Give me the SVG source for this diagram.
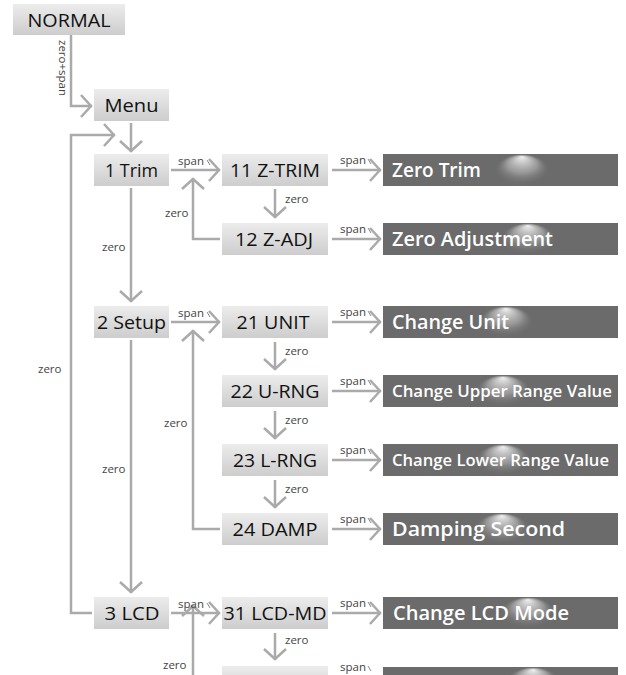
<svg xmlns="http://www.w3.org/2000/svg" width="626" height="675" viewBox="0 0 626 675">
<defs>
<linearGradient id="lg" x1="0" y1="0" x2="0" y2="1">
<stop offset="0" stop-color="#ececec"/>
<stop offset="1" stop-color="#cdcdcd"/>
</linearGradient>
<radialGradient id="hl" cx="0.5" cy="0.5" r="0.5" fx="0.5" fy="0.08">
<stop offset="0" stop-color="#ffffff" stop-opacity="0.9"/>
<stop offset="0.55" stop-color="#d0d0d0" stop-opacity="0.45"/>
<stop offset="1" stop-color="#6b6b6b" stop-opacity="0"/>
</radialGradient>
<marker id="ar" markerUnits="userSpaceOnUse" viewBox="-12 -13 14 26" refX="0" refY="0" markerWidth="14" markerHeight="26" orient="auto">
<path d="M-11,-11 L-1,0 L-11,11" fill="none" stroke="#aaaaaa" stroke-width="2.5"/>
</marker>
</defs>
<style>
.lb{fill:url(#lg)}
.db{fill:#6b6b6b}
.hl{fill:url(#hl)}
.lt{font-family:"Open Sans","Liberation Sans",sans-serif;font-size:19px;fill:#111;text-anchor:middle}
.dt{font-family:"Open Sans","Liberation Sans",sans-serif;font-size:19px;font-weight:600;fill:#ffffff}
.dn{font-size:17px}
.sl{font-family:"Open Sans","Liberation Sans",sans-serif;font-size:11.5px;fill:#444}
.c{fill:none;stroke:#aaaaaa;stroke-width:2.5;marker-end:url(#ar)}
.tk{fill:none;stroke:#888;stroke-width:1}
</style>
<rect width="626" height="675" fill="#ffffff"/>

<g id="connectors">
<path class="c" d="M71,35 V106 H92"/>
<path class="c" d="M131,123 V152"/>
<path class="c" d="M92,613 H71 V135 H115"/>
<path class="c" d="M131,188 V302"/>
<path class="c" d="M131,340 V593"/>
<path class="c" d="M171,170 H220"/>
<path class="c" d="M171,322 H220"/>
<path class="c" d="M171,613 H220"/>
<path class="c" d="M275,189 V218"/>
<path class="c" d="M275,342 V370"/>
<path class="c" d="M275,411 V439"/>
<path class="c" d="M275,480 V508"/>
<path class="c" d="M275,633 V660"/>
<path class="c" d="M220,239 H193 V178"/>
<path class="c" d="M220,529 H193 V330"/>
<path class="c" d="M193,680 V605"/>
<path class="c" d="M332,170 H381"/>
<path class="c" d="M332,239 H381"/>
<path class="c" d="M332,322 H381"/>
<path class="c" d="M332,391 H381"/>
<path class="c" d="M332,460 H381"/>
<path class="c" d="M332,529 H381"/>
<path class="c" d="M332,613 H381"/>
<text class="sl" transform="translate(59,40) rotate(90)">zero+span</text>
<text class="sl" x="38" y="373">zero</text>
<text class="sl" x="102" y="251">zero</text>
<text class="sl" x="102" y="473">zero</text>
<text class="sl" x="165" y="217">zero</text>
<text class="sl" x="164" y="427">zero</text>
<text class="sl" x="163" y="669">zero</text>
<text class="sl" x="285" y="203">zero</text>
<text class="sl" x="285" y="355">zero</text>
<text class="sl" x="285" y="424">zero</text>
<text class="sl" x="285" y="493">zero</text>
<text class="sl" x="285" y="644">zero</text>
<text class="sl" x="178" y="165">span</text><path class="tk" d="M207,160 L210,165"/>
<text class="sl" x="178" y="317">span</text><path class="tk" d="M207,312 L210,317"/>
<text class="sl" x="178" y="608">span</text><path class="tk" d="M207,603 L210,608"/>
<text class="sl" x="340" y="164">span</text><path class="tk" d="M368,159 L371,164"/>
<text class="sl" x="340" y="233">span</text><path class="tk" d="M368,228 L371,233"/>
<text class="sl" x="340" y="316">span</text><path class="tk" d="M368,311 L371,316"/>
<text class="sl" x="340" y="385">span</text><path class="tk" d="M368,380 L371,385"/>
<text class="sl" x="340" y="454">span</text><path class="tk" d="M368,449 L371,454"/>
<text class="sl" x="340" y="523">span</text><path class="tk" d="M368,518 L371,523"/>
<text class="sl" x="340" y="607">span</text><path class="tk" d="M368,602 L371,607"/>
<text class="sl" x="340" y="671">span</text><path class="tk" d="M368,666 L371,671"/>
</g>

<g id="n-normal"><rect class="lb" x="13" y="4" width="112" height="31"/><text class="lt" x="69" y="26.5" textLength="83" lengthAdjust="spacingAndGlyphs">NORMAL</text></g>
<g id="n-menu"><rect class="lb" x="94" y="89" width="75" height="32"/><text class="lt" x="131.5" y="111.5" textLength="54" lengthAdjust="spacingAndGlyphs">Menu</text></g>
<g id="n-1"><rect class="lb" x="94" y="154" width="75" height="32"/><text class="lt" x="131.5" y="176.5" textLength="53" lengthAdjust="spacingAndGlyphs">1 Trim</text></g>
<g id="n-2"><rect class="lb" x="94" y="306" width="75" height="32"/><text class="lt" x="131.5" y="328.5" textLength="69" lengthAdjust="spacingAndGlyphs">2 Setup</text></g>
<g id="n-3"><rect class="lb" x="94" y="597" width="75" height="32"/><text class="lt" x="132" y="619.5" textLength="55" lengthAdjust="spacingAndGlyphs">3 LCD</text></g>

<g id="n-11"><rect class="lb" x="222" y="154" width="106" height="32"/><text class="lt" x="275" y="176.5" textLength="90" lengthAdjust="spacingAndGlyphs">11 Z-TRIM</text></g>
<g id="n-12"><rect class="lb" x="222" y="223" width="106" height="32"/><text class="lt" x="274" y="245.5" textLength="78" lengthAdjust="spacingAndGlyphs">12 Z-ADJ</text></g>
<g id="n-21"><rect class="lb" x="222" y="306" width="106" height="32"/><text class="lt" x="273" y="328.5" textLength="73" lengthAdjust="spacingAndGlyphs">21 UNIT</text></g>
<g id="n-22"><rect class="lb" x="222" y="375" width="106" height="32"/><text class="lt" x="275" y="397.5" textLength="89" lengthAdjust="spacingAndGlyphs">22 U-RNG</text></g>
<g id="n-23"><rect class="lb" x="222" y="444" width="106" height="32"/><text class="lt" x="275" y="466.5" textLength="84" lengthAdjust="spacingAndGlyphs">23 L-RNG</text></g>
<g id="n-24"><rect class="lb" x="222" y="513" width="106" height="32"/><text class="lt" x="275" y="535.5" textLength="85" lengthAdjust="spacingAndGlyphs">24 DAMP</text></g>
<g id="n-31"><rect class="lb" x="222" y="597" width="106" height="32"/><text class="lt" x="275" y="619.5" textLength="103" lengthAdjust="spacingAndGlyphs">31 LCD-MD</text></g>
<g id="n-32"><rect class="lb" x="222" y="666" width="106" height="32"/></g>

<g id="d-zerotrim"><rect class="db" x="383" y="154" width="235" height="32"/><ellipse class="hl" cx="522" cy="170" rx="28" ry="16"/><text class="dt" x="392" y="176.5" textLength="89" lengthAdjust="spacingAndGlyphs">Zero Trim</text></g>
<g id="d-zeroadj"><rect class="db" x="383" y="223" width="235" height="32"/><ellipse class="hl" cx="528" cy="239" rx="28" ry="16"/><text class="dt" x="392" y="245.5" textLength="161" lengthAdjust="spacingAndGlyphs">Zero Adjustment</text></g>
<g id="d-unit"><rect class="db" x="383" y="306" width="235" height="32"/><ellipse class="hl" cx="506" cy="322" rx="28" ry="16"/><text class="dt" x="392" y="328.5" textLength="117" lengthAdjust="spacingAndGlyphs">Change Unit</text></g>
<g id="d-urv"><rect class="db" x="383" y="375" width="235" height="32"/><ellipse class="hl" cx="503" cy="391" rx="28" ry="16"/><text class="dt dn" x="392" y="397" textLength="220" lengthAdjust="spacingAndGlyphs">Change Upper Range Value</text></g>
<g id="d-lrv"><rect class="db" x="383" y="444" width="235" height="32"/><ellipse class="hl" cx="503" cy="460" rx="28" ry="16"/><text class="dt dn" x="392" y="466" textLength="217" lengthAdjust="spacingAndGlyphs">Change Lower Range Value</text></g>
<g id="d-damp"><rect class="db" x="383" y="513" width="235" height="32"/><ellipse class="hl" cx="502" cy="529" rx="28" ry="16"/><text class="dt" x="392" y="535.5" textLength="173" lengthAdjust="spacingAndGlyphs">Damping Second</text></g>
<g id="d-lcd"><rect class="db" x="383" y="597" width="235" height="32"/><ellipse class="hl" cx="528" cy="613" rx="28" ry="16"/><text class="dt" x="393" y="619.5" textLength="176" lengthAdjust="spacingAndGlyphs">Change LCD Mode</text></g>
<g id="d-next"><rect class="db" x="383" y="667" width="235" height="32"/><ellipse class="hl" cx="533" cy="683" rx="28" ry="16"/></g>
</svg>
